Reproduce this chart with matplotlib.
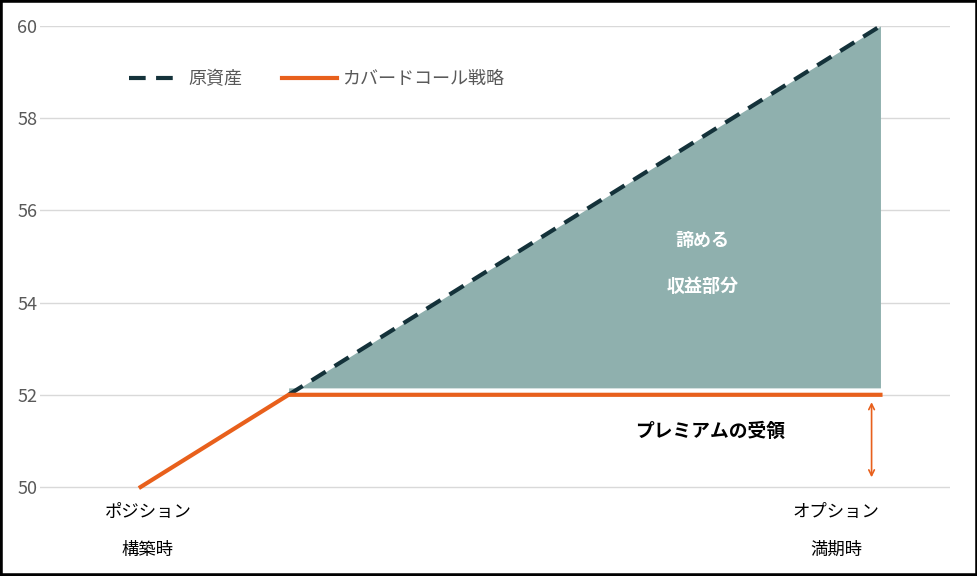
import matplotlib
matplotlib.use("Agg")
import matplotlib.pyplot as plt

plt.rcParams['font.family'] = ['Noto Sans CJK JP', 'DejaVu Sans']

# data
underlying_x = [1, 5]
underlying_y = [52, 60]
covered_x = [0, 1, 5]
covered_y = [50, 52, 52]
yticks = [50, 52, 54, 56, 58, 60]
xlabels = ["ポジション\n\n構築時", "オプション\n\n満期時"]
xlabel_pos = [0.05, 4.7]

fig = plt.figure(figsize=(9.78, 5.76), dpi=100)
y0 = 49.95
ax = fig.add_axes([40/978, 1-(487+2.3)/576, 910/978, (461+2.3)/576])
ax.set_xlim(-0.68, 5.47)
ax.set_ylim(y0, 60)
ax.set_axisbelow(True)

ax.fill_between(underlying_x, [52.15, 52.15], underlying_y, color='#8fb0ae', linewidth=0, zorder=2)
ax.plot(underlying_x, underlying_y, color='#14323a', lw=3, ls=(0, (4, 2.5)), label='原資産', clip_on=False, zorder=3)
ax.plot(covered_x, covered_y, color='#e8601c', lw=3, label='カバードコール戦略', clip_on=False, zorder=3)

ax.annotate('', xy=(4.94, 50.15), xytext=(4.94, 51.9),
            arrowprops=dict(arrowstyle='<->', color='#e8601c', lw=1.2), zorder=4)
ax.text(3.8, 55.35, '諦める', color='white', fontsize=13, fontweight='bold', ha='center', va='center', zorder=4)
ax.text(3.8, 54.35, '収益部分', color='white', fontsize=13, fontweight='bold', ha='center', va='center', zorder=4)
ax.text(3.85, 51.2, 'プレミアムの受領', color='black', fontsize=13.5, fontweight='bold', ha='center', va='center')

ax.set_yticks(yticks)
ax.yaxis.grid(True, color='#d9d9d9', lw=1, zorder=0)
ax.tick_params(axis='y', length=0, labelsize=13, labelcolor='#595959', pad=2)
ax.set_xticks([])
for i, lab in enumerate(xlabels):
    ax.text(xlabel_pos[i], 49.65, lab, ha='center', va='top', fontsize=12.5, linespacing=1.05)
for s in ax.spines.values():
    s.set_visible(False)

ax.legend(loc='upper left', bbox_to_anchor=(0.08, 0.94), ncol=2, frameon=False,
          fontsize=13, labelcolor='#595959', handlelength=3, handletextpad=0.3, columnspacing=2.2)

fig.patches.append(plt.Rectangle((0, 0), 1, 1, transform=fig.transFigure, fill=False,
                                 edgecolor='black', lw=4))
fig.savefig('out.png', dpi=100)
